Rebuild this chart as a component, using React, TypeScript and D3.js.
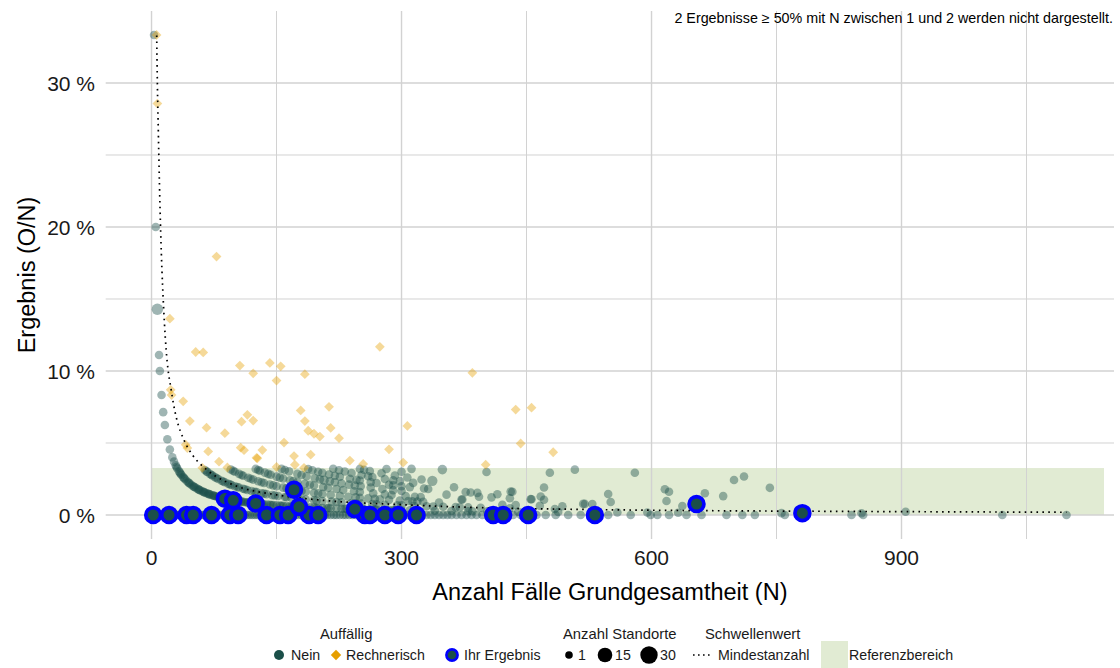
import React from "react";
import * as d3 from "d3";

const W = 1120;
const H = 668;
const FONT = "'Liberation Sans', Arial, Helvetica, sans-serif";

// axis ticks
const xTicks = [0, 300, 600, 900];
const xMinorTicks = [150, 450, 750, 1050];
const yTicks = [0, 10, 20, 30];
const yMinorTicks = [5, 15, 25];

// reference area (percent) and its N-span
const referenzOben = 3.26;
const referenzN = [0, 1143];

// Mindestanzahl threshold curve (N, percent)
const thresholdN = [6.2, 7, 8.2, 9.5, 11, 12.5, 14, 15.5, 17.5, 20, 23, 27, 30, 39, 50, 65, 88, 100, 150, 200, 300, 400, 500, 600, 800, 1000, 1098];
const thresholdV = [33.3, 30, 26.5, 23, 19.6, 17, 15, 13.3, 11.5, 10, 8.9, 7.5, 6.7, 5.2, 4.1, 3.2, 2.35, 2.05, 1.4, 1.05, 0.72, 0.5, 0.4, 0.33, 0.26, 0.21, 0.19];

// "Nein" points with O = 0 (N values)
const neinZeroN = [1, 3, 4, 6, 8, 9, 11, 13, 15, 16, 18, 20, 22, 24, 26, 28, 30, 32, 34, 36, 38, 41, 43, 45, 48, 50, 52, 55, 57, 60, 62, 65, 67, 70, 72, 75, 78, 80, 83, 86, 88, 91, 94, 97, 100, 103, 106, 109, 112, 115, 118, 121, 124, 127, 130, 133, 136, 140, 143, 146, 150, 153, 156, 160, 163, 166, 170, 173, 176, 180, 183, 187, 190, 194, 197, 201, 204, 208, 211, 215, 219, 222, 226, 230, 233, 237, 241, 245, 249, 253, 257, 261, 265, 269, 273, 277, 281, 285, 290, 294, 298, 303, 307, 312, 316, 321, 325, 330, 335, 340, 345, 350, 355, 360, 366, 372, 378, 384, 390, 397, 404, 411, 418, 426, 434, 443, 462, 473, 485, 500, 515, 533, 548, 575, 599, 607, 621, 642, 660, 690, 709, 724, 760, 840, 854, 1021, 1098];

// "Nein" points with O = 1 (N values)
const neinOneN = [3, 5, 9, 10, 12, 14, 16, 19, 22, 25, 27, 29, 30, 31, 33, 34, 35, 36, 38, 39, 40, 42, 44, 45, 46, 48, 50, 51, 52, 54, 56, 57, 58, 60, 62, 63, 64, 66, 68, 69, 70, 72, 74, 75, 76, 78, 80, 81, 82, 84, 86, 87, 88, 90, 92, 93, 95, 97, 98, 100, 103, 105, 107, 108, 110, 113, 115, 116, 119, 122, 124, 125, 128, 132, 133, 135, 139, 142, 144, 146, 150, 154, 156, 158, 162, 166, 168, 170, 175, 180, 182, 185, 190, 195, 198, 200, 205, 210, 212, 215, 222, 228, 232, 234, 240, 247, 250, 255, 262, 268, 270, 278, 285, 290, 292, 300, 310, 320, 340, 360, 380, 385, 403, 410, 440, 452, 488, 559, 595, 632, 756, 785, 852];

// "Nein" points with O >= 2: [N, O, Anzahl Standorte]
const neinMulti: [number, number, number][] = [
  [7, 1, 5],
  [64, 2, 1], [66, 2, 1], [67, 2, 1], [70, 2, 1], [72, 2, 1], [73, 2, 1], [76, 2, 1], [78, 2, 1], [80, 2, 1], [84, 2, 1], [86, 2, 1], [88, 2, 1], [92, 2, 1], [94, 2, 1], [96, 2, 1], [100, 2, 1], [103, 2, 1], [105, 2, 1], [110, 2, 1], [112, 2, 1], [115, 2, 1], [120, 2, 1], [124, 2, 1], [126, 2, 1], [132, 2, 1], [135, 2, 1], [138, 2, 1], [145, 2, 1], [148, 2, 1], [152, 2, 1], [160, 2, 1], [162, 2, 1], [168, 2, 1], [176, 2, 1], [180, 2, 1], [185, 2, 1], [195, 2, 1], [198, 2, 1], [205, 2, 1], [216, 2, 1], [222, 2, 1], [228, 2, 1], [240, 2, 1], [245, 2, 1], [252, 2, 1], [265, 2, 1], [270, 2, 1], [280, 2, 1], [295, 2, 1], [300, 2, 1], [315, 2, 1], [330, 2, 1], [338, 2, 1], [350, 2, 1], [365, 2, 1], [370, 2, 1], [380, 2, 1], [395, 2, 1], [430, 2, 1], [484, 2, 1], [905, 2, 1],
  [95, 3, 1], [98, 3, 1], [100, 3, 1], [105, 3, 1], [108, 3, 1], [110, 3, 1], [116, 3, 1], [119, 3, 1], [122, 3, 1], [128, 3, 1], [132, 3, 1], [135, 3, 1], [142, 3, 1], [146, 3, 1], [150, 3, 1], [158, 3, 1], [162, 3, 1], [166, 3, 1], [175, 3, 1], [180, 3, 1], [185, 3, 1], [195, 3, 1], [200, 3, 1], [205, 3, 1], [215, 3, 1], [226, 3, 1], [236, 3, 1], [245, 3, 1], [250, 3, 1], [260, 3, 1], [268, 3, 1], [274, 3, 1], [285, 3, 1], [298, 3, 1], [308, 3, 1], [313, 3, 1], [319, 3, 1], [326, 3, 1], [345, 3, 1], [421, 3, 1], [437, 3, 1], [466, 3, 1], [493, 3, 1],
  [125, 4, 1], [128, 4, 1], [130, 4, 1], [136, 4, 1], [140, 4, 1], [143, 4, 1], [150, 4, 1], [154, 4, 1], [158, 4, 1], [166, 4, 1], [170, 4, 1], [175, 4, 1], [184, 4, 1], [190, 4, 1], [195, 4, 1], [206, 4, 1], [212, 4, 1], [222, 4, 1], [230, 4, 1], [243, 4, 1], [250, 4, 1], [266, 4, 1], [280, 4, 1], [288, 4, 1], [305, 4, 1], [316, 4, 1], [323, 4, 1], [372, 4, 1], [373, 4, 1], [518, 4, 1], [520, 4, 1], [529, 4, 1], [637, 4, 1],
  [156, 5, 1], [160, 5, 1], [165, 5, 1], [175, 5, 1], [180, 5, 1], [186, 5, 1], [196, 5, 1], [202, 5, 1], [207, 5, 2], [214, 5, 1], [220, 5, 1], [228, 5, 1], [237, 5, 1], [244, 5, 1], [251, 5, 1], [263, 5, 1], [277, 5, 1], [290, 5, 1], [300, 5, 1], [354, 5, 1], [393, 5, 1], [408, 5, 1], [430, 5, 1], [455, 5, 1], [456, 5, 1], [471, 5, 1], [551, 5, 1],
  [188, 6, 1], [193, 6, 1], [200, 6, 1], [205, 6, 1], [213, 6, 1], [220, 6, 1], [226, 6, 1], [238, 6, 1], [246, 6, 1], [250, 6, 1], [263, 6, 1], [270, 6, 1], [285, 6, 1], [290, 6, 1], [300, 6, 1], [310, 6, 1], [327, 6, 1], [332, 6, 1], [377, 6, 1], [383, 6, 1], [391, 6, 1], [415, 6, 1], [467, 6, 1], [618, 6, 1],
  [218, 7, 1], [225, 7, 1], [232, 7, 1], [240, 7, 1], [252, 7, 1], [260, 7, 1], [265, 7, 1], [280, 7, 1], [290, 7, 1], [298, 7, 1], [314, 7, 1], [363, 7, 1], [431, 7, 1], [433, 7, 1],
  [250, 8, 1], [255, 8, 1], [262, 8, 1], [276, 8, 1], [292, 8, 1], [307, 8, 1], [324, 8, 1], [337, 8, 3], [548, 8, 1],
  [282, 9, 1], [300, 9, 1], [471, 9, 1], [686, 9, 1],
  [312, 10, 1], [621, 10, 1], [664, 10, 1],
  [349, 11, 2], [616, 11, 1],
  [402, 12, 1],
  [478, 14, 1], [742, 14, 1],
  [508, 16, 1],
  [580, 17, 1], [699, 17, 1],
  [711, 19, 1],
];

// "Rechnerisch" auffällige points: [N, O]
const rechnerisch: [number, number][] = [
  [6, 2], [7, 2], [78, 14], [22, 3], [53, 6], [62, 7], [274, 32], [106, 11], [142, 15], [155, 16], [122, 12], [184, 18], [150, 14], [385, 38],
  [23, 2], [24, 2], [38, 3], [115, 8], [179, 13], [213, 16], [437, 32], [456, 34], [46, 3], [66, 4], [88, 5], [108, 7], [122, 8], [184, 12],
  [188, 11], [195, 11], [202, 11], [215, 13], [225, 12], [307, 19], [159, 8], [41, 2], [43, 2], [68, 3], [107, 5], [111, 5], [133, 6], [126, 5],
  [127, 5], [171, 7], [172, 6], [191, 8], [183, 6], [150, 5], [81, 3], [91, 3], [61, 2], [238, 9], [254, 9], [285, 13], [302, 11], [443, 22],
  [482, 21], [401, 14],
];

// "Ihr Ergebnis" points: [N, O]
const ihrErgebnis: [number, number][] = [
  [2, 0], [21, 0], [42, 0], [50, 0], [72, 0], [94, 0], [104, 0], [138, 0], [154, 0], [164, 0], [189, 0], [200, 0], [256, 0], [262, 0],
  [280, 0], [296, 0], [318, 0], [410, 0], [422, 0], [452, 0], [532, 0],
  [88, 1], [98, 1], [125, 1], [171, 3], [177, 1], [244, 1], [654, 5], [781, 1],
];

const TEAL = "#1b4f49";
const ORANGE = "#e69f00";
const BLUE = "#0000ff";
const REF = "#e1ebd3";
const GRID = "#d2d2d2";

const pct = (n: number, o: number) => (o / n) * 100;

export default function App() {
  const x = d3.scaleLinear().domain([-55, 1155]).range([105.7, 1114]);
  const y = d3.scaleLinear().domain([-1.667, 35]).range([539, 11]);
  const r = d3.scaleSqrt().domain([1, 30]).range([4.3, 9.5]);

  const [pl, pr] = x.range();
  const [pb, pt] = y.range();

  const linePts = thresholdN.map((n, i) => [x(n), y(thresholdV[i])] as [number, number]);
  const linePath = d3.line().curve(d3.curveMonotoneX)(linePts) || "";

  const grey: { n: number; o: number; s: number }[] = [];
  neinZeroN.forEach((n) => grey.push({ n, o: 0, s: 1 }));
  neinOneN.forEach((n) => grey.push({ n, o: 1, s: 1 }));
  neinMulti.forEach(([n, o, s]) => grey.push({ n, o, s }));

  const diamond = (s: number) => `M0,${-s}L${s},0L0,${s}L${-s},0Z`;

  return (
    <svg width={W} height={H} style={{ position: "absolute", left: 0, top: 0, fontFamily: FONT }}>
      <rect x={0} y={0} width={W} height={H} fill="#fff" />
      {/* reference area */}
      <rect
        x={x(referenzN[0])}
        y={y(referenzOben)}
        width={x(referenzN[1]) - x(referenzN[0])}
        height={y(0) - y(referenzOben)}
        fill={REF}
      />
      {/* grid */}
      {yMinorTicks.map((t) => (
        <line key={"ym" + t} x1={pl} x2={pr} y1={y(t)} y2={y(t)} stroke={GRID} strokeWidth={1} />
      ))}
      {xMinorTicks.map((t) => (
        <line key={"xm" + t} x1={x(t)} x2={x(t)} y1={pt} y2={pb} stroke={GRID} strokeWidth={1} />
      ))}
      {yTicks.map((t) => (
        <line key={"y" + t} x1={pl} x2={pr} y1={y(t)} y2={y(t)} stroke={GRID} strokeWidth={1.4} />
      ))}
      {xTicks.map((t) => (
        <line key={"x" + t} x1={x(t)} x2={x(t)} y1={pt} y2={pb} stroke={GRID} strokeWidth={1.4} />
      ))}

      {/* grey points */}
      {grey.map((d, i) => (
        <circle key={"g" + i} cx={x(d.n)} cy={y(pct(d.n, d.o))} r={r(d.s)} fill={TEAL} fillOpacity={0.42} />
      ))}
      {/* orange diamonds */}
      {rechnerisch.map(([n, o], i) => (
        <path key={"o" + i} d={diamond(4.9)} transform={`translate(${x(n)},${y(pct(n, o))})`} fill={ORANGE} fillOpacity={0.4} />
      ))}
      {/* threshold line */}
      <path d={linePath} fill="none" stroke="#000" strokeWidth={1.7} strokeDasharray="1.6 4.3" />
      {/* Ihr Ergebnis */}
      {ihrErgebnis.map(([n, o], i) => (
        <circle key={"b" + i} cx={x(n)} cy={y(pct(n, o))} r={7.4} fill={TEAL} stroke={BLUE} strokeWidth={3.7} />
      ))}

      {/* axes labels */}
      {yTicks.map((t) => (
        <text key={"yl" + t} x={95} y={y(t)} dy="0.36em" textAnchor="end" fontSize={21} fill="#1a1a1a">
          {t} %
        </text>
      ))}
      {xTicks.map((t) => (
        <text key={"xl" + t} x={x(t)} y={565} textAnchor="middle" fontSize={21} fill="#1a1a1a">
          {t}
        </text>
      ))}
      <text x={(pl + pr) / 2} y={600} textAnchor="middle" fontSize={23.5} fill="#000">
        Anzahl Fälle Grundgesamtheit (N)
      </text>
      <text transform={`translate(35,${(pt + pb) / 2}) rotate(-90)`} textAnchor="middle" fontSize={23.5} fill="#000">
        Ergebnis (O/N)
      </text>
      <text x={1113} y={23} textAnchor="end" fontSize={14.3} fill="#000">
        2 Ergebnisse ≥ 50% mit N zwischen 1 und 2 werden nicht dargestellt.
      </text>

      {/* legend */}
      <g fontSize={14.2} fill="#1a1a1a">
        <text x={320} y={639} fontSize={14.8}>Auffällig</text>
        <circle cx={279} cy={655} r={5} fill={TEAL} />
        <text x={291} y={660}>Nein</text>
        <path d={diamond(5.2)} transform="translate(336,655)" fill={ORANGE} />
        <text x={346} y={660}>Rechnerisch</text>
        <circle cx={452} cy={655} r={5.6} fill={TEAL} stroke={BLUE} strokeWidth={2.6} />
        <text x={464} y={660}>Ihr Ergebnis</text>

        <text x={563} y={639} fontSize={14.8}>Anzahl Standorte</text>
        <circle cx={569} cy={655} r={3.8} fill="#000" />
        <text x={578} y={660}>1</text>
        <circle cx={605} cy={655} r={7.3} fill="#000" />
        <text x={615} y={660}>15</text>
        <circle cx={649} cy={655} r={8.7} fill="#000" />
        <text x={660} y={660}>30</text>

        <text x={705} y={639} fontSize={14.8}>Schwellenwert</text>
        <line x1={693} x2={713} y1={655} y2={655} stroke="#000" strokeWidth={1.7} strokeDasharray="1.6 3.4" />
        <text x={718} y={660}>Mindestanzahl</text>

        <rect x={821} y={641} width={27} height={27} fill={REF} />
        <text x={849} y={660}>Referenzbereich</text>
      </g>
    </svg>
  );
}
